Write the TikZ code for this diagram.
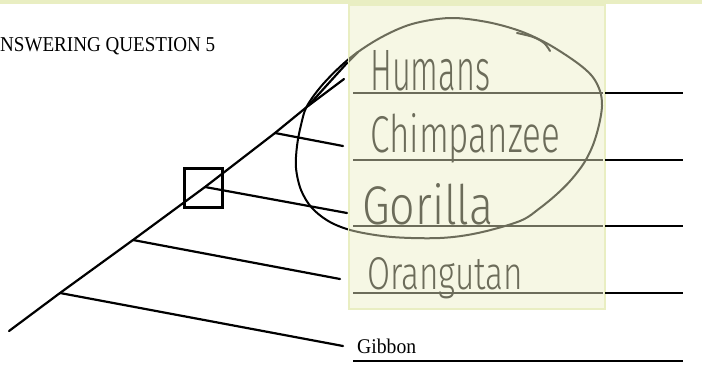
\documentclass[tikz,border=0pt]{standalone}
\usepackage{fontspec}
\setmainfont{Liberation Serif}
\newfontfamily\hand{Fira Sans Light}
\usepackage{graphicx}
\definecolor{hlfill}{RGB}{246,247,228}
\definecolor{hlborder}{RGB}{233,238,194}
\definecolor{pencil}{RGB}{108,108,90}
\tikzset{
  tree/.style={line width=2.2pt, line cap=round, black},
  ulineblack/.style={line width=2.5pt, black},
  ulinegrey/.style={line width=2.4pt, pencil},
  loopline/.style={line width=2pt, line cap=round, line join=round},
  handtxt/.style={anchor=base west, inner sep=0pt, text=pencil},
  printtxt/.style={anchor=base west, inner sep=0pt, text=black}
}
\begin{document}
\begin{tikzpicture}[x=1pt,y=-1pt]
\useasboundingbox (0,0) rectangle (702,381);
\fill[white] (0,0) rectangle (702,381);
\fill[hlborder] (0,0) rectangle (702,3.5);
% tree coordinates
\coordinate (root) at (9,331);
\coordinate (n1) at (60,293);
\coordinate (n2) at (133,240);
\coordinate (n3) at (205,187);
\coordinate (n4) at (275,133);
\coordinate (n5) at (308,106);
\coordinate (tH) at (347,63);
\coordinate (tH2) at (344,79);
\coordinate (tC) at (343,146);
\coordinate (tG) at (347,213);
\coordinate (tO) at (340,279);
\coordinate (tB) at (343,346);
% tree
\draw[tree] (root) -- (n1) -- (n2) -- (n3) -- (n4) -- (n5) -- (tH2);
\draw[tree] (n5) -- (tH);
\draw[tree] (n4) -- (tC);
\draw[tree] (n3) -- (tG);
\draw[tree] (n2) -- (tO);
\draw[tree] (n1) -- (tB);
% box node
\node[draw, line width=3pt, minimum width=38pt, minimum height=39pt, inner sep=0pt] (sq) at (203,187.5) {};
% loop (black part outside the highlight)
\def\looppath{plot[smooth cycle, tension=0.55] coordinates {(450,18) (487,22) (520,31) (548,44) (576,62) (592,76) (600,91) (602,106) (599,125) (593,145) (584,163) (571,180) (557,194) (540,208) (520,221) (478,233) (440,238) (392,237) (354,231) (330,222) (312,208) (301,190) (296,168) (297,146) (301,125) (307,106) (324,83) (350,58) (380,38) (412,24)}}
\draw[loopline, black] \looppath;
% highlight
\node[fill=hlfill, draw=hlborder, line width=2pt, anchor=north west, minimum width=256pt, minimum height=304pt, inner sep=0pt] (hl) at (348,4) {};
\begin{scope}
\clip (349,5) rectangle (603,306);
\draw[loopline, pencil] \looppath;
\draw[loopline, pencil] plot[smooth, tension=0.6] coordinates {(517,33) (533,37) (544,43) (550,51)};
\draw[tree, pencil] (tH) -- (358,52);
\end{scope}
% underlines
\coordinate (uH0) at (353,93); \coordinate (uH1) at (603,93); \coordinate (uH2) at (683,93);
\coordinate (uC0) at (353,160); \coordinate (uC1) at (603,160); \coordinate (uC2) at (683,160);
\coordinate (uG0) at (353,226); \coordinate (uG1) at (603,226); \coordinate (uG2) at (683,226);
\coordinate (uO0) at (353,293); \coordinate (uO1) at (603,293); \coordinate (uO2) at (683,293);
\coordinate (uB0) at (353,361); \coordinate (uB2) at (683,361);
\foreach \k in {H,C,G,O}{
  \draw[ulinegrey] (u\k0) -- (u\k1);
  \draw[ulineblack] ([xshift=2pt]u\k1) -- (u\k2);
}
\draw[ulineblack] (uB0) -- (uB2);
% handwriting
\node[handtxt] (humans) at (370,90) {\resizebox{120pt}{40pt}{\hand Humans}};
\node[handtxt] (chimp) at (370,152) {\resizebox{190pt}{39pt}{\hand Chimpanzee}};
\node[handtxt] (gorilla) at (362,224) {\resizebox{131pt}{41pt}{\hand Gorilla}};
\node[handtxt] (orang) at (367,289) {\resizebox{156pt}{32pt}{\hand Orangutan}};
% printed text
\node[printtxt] (gibbon) at (357,353) {\resizebox{59pt}{14.5pt}{\fontsize{20}{20}\selectfont Gibbon}};
\node[printtxt] (hdr) at (0,51) {\resizebox{215pt}{14pt}{\fontsize{20}{20}\selectfont NSWERING QUESTION 5}};
\end{tikzpicture}
\end{document}
